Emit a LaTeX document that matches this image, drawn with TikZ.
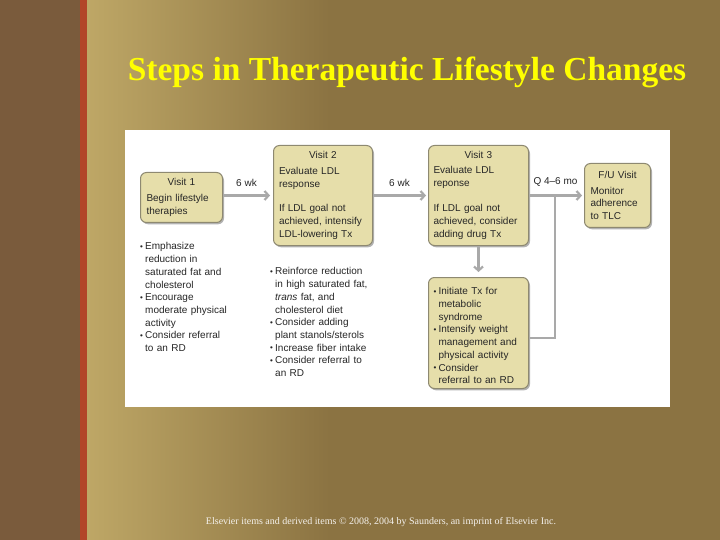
\documentclass[tikz,border=0pt]{standalone}
\usepackage{fontspec}
\setmainfont{Liberation Serif}
\newfontfamily\diagfont{Liberation Sans}
\usetikzlibrary{positioning,arrows.meta,shadows}
\definecolor{slideOlive}{HTML}{8B7342}
\definecolor{stripBrown}{HTML}{7A5B3C}
\definecolor{stripRed}{HTML}{B24528}
\definecolor{photoTan}{HTML}{BEA766}
\definecolor{titleYellow}{HTML}{FFFF00}
\definecolor{boxTan}{HTML}{E6DEAA}
\definecolor{boxEdge}{HTML}{8E8971}
\definecolor{arrowGray}{HTML}{A9A9A9}
\newcommand{\bitem}{\par\hangindent=5pt\hangafter=1\noindent\makebox[5pt][l]{\raisebox{0.6pt}{\footnotesize\textbullet}}}

\begin{document}
\begin{tikzpicture}[
    x=1pt, y=-1pt,
    txt/.style={font=\diagfont\fontsize{10}{12.7}\selectfont, text=black!85},
    visit/.style={txt, draw=boxEdge, line width=1pt, fill=boxTan, rounded corners=6pt,
      anchor=north west, align=left, inner ysep=0pt,
      drop shadow={shadow xshift=1.5pt, shadow yshift=-1.8pt, fill=black, opacity=0.3}},
    notes/.style={txt, anchor=north west, align=left, inner sep=0pt},
    arr/.style={draw=arrowGray, line width=2.2pt, -{Straight Barb[length=4pt,width=9pt]}},
    lbl/.style={txt, inner sep=0pt, above=8pt}
  ]
  \useasboundingbox (0,0) rectangle (720,540);

  % slide background
  \fill[slideOlive] (0,0) rectangle (720,540);
  \shade[left color=photoTan, right color=slideOlive] (87,0) rectangle (330,540);
  \fill[stripBrown] (0,0) rectangle (80,540);
  \fill[stripRed] (80,0) rectangle (87,540);

  \node[font=\bfseries\fontsize{33.5}{36}\selectfont, text=titleYellow] (title) at (407,72) {Steps in Therapeutic Lifestyle Changes};
  \node[font=\fontsize{10}{11}\selectfont, text=white!90!slideOlive] (credit) at (381,522) {Elsevier items and derived items \textcopyright\ 2008, 2004 by Saunders, an imprint of Elsevier Inc.};

  % figure panel
  \fill[white] (125,130) rectangle (670,407);

  \node[visit, text width=70pt, inner xsep=6pt, minimum height=50pt] (v1) at (140,172)
    {{\centering Visit 1\par}\vspace{3pt}Begin lifestyle\\therapies};
  \node[visit, text width=88pt, inner xsep=5.5pt, minimum height=100pt] (v2) at (273,145)
    {{\centering Visit 2\par}\vspace{3pt}Evaluate LDL\\response\\[12pt]If LDL goal not\\achieved, intensify\\LDL-lowering Tx};
  \node[visit, text width=90pt, inner xsep=5pt, minimum height=100pt] (v3) at (428,145)
    {{\centering Visit 3\par}\vspace{2pt}Evaluate LDL\\reponse\\[13pt]If LDL goal not\\achieved, consider\\adding drug Tx};
  \node[visit, text width=54pt, inner xsep=6pt, minimum height=64pt] (fu) at (584,163)
    {{\centering F/U Visit\par}\vspace{3pt}Monitor\\adherence\\to TLC};
  \node[visit, text width=90pt, inner xsep=5pt, minimum height=111pt] (mets) at (428,277)
    {\bitem Initiate Tx for\newline metabolic\newline syndrome
     \bitem Intensify weight\newline management and\newline physical activity
     \bitem Consider\newline referral to an RD\par};

  \node[notes, text width=92pt] (n1) at (140,237)
    {\bitem Emphasize\newline reduction in\newline saturated fat and\newline cholesterol
     \bitem Encourage\newline moderate physical\newline activity
     \bitem Consider referral\newline to an RD\par};
  \node[notes, text width=104pt] (n2) at (270,262)
    {\bitem Reinforce reduction\newline in high saturated fat,\newline \textit{trans} fat, and\newline cholesterol diet
     \bitem Consider adding\newline plant stanols/sterols
     \bitem Increase fiber intake
     \bitem Consider referral to\newline an RD\par};

  \coordinate (jn) at (555,195);
  \draw[arr] (v1.east |- v2.west) -- node[lbl] {6 wk} ([xshift=-3pt]v2.west);
  \draw[arr] (v2.east) -- node[lbl] {6 wk} ([xshift=-2pt]v3.west);
  \draw[arr] (v3.east) -- node[lbl] {Q 4\textendash6 mo} ([xshift=-2pt]fu.west);
  \draw[arr] (v3.south) -- ([yshift=5pt]mets.north);
  \draw[draw=arrowGray, line width=2.2pt] ([yshift=-5pt]mets.east) -| (jn);
\end{tikzpicture}
\end{document}
